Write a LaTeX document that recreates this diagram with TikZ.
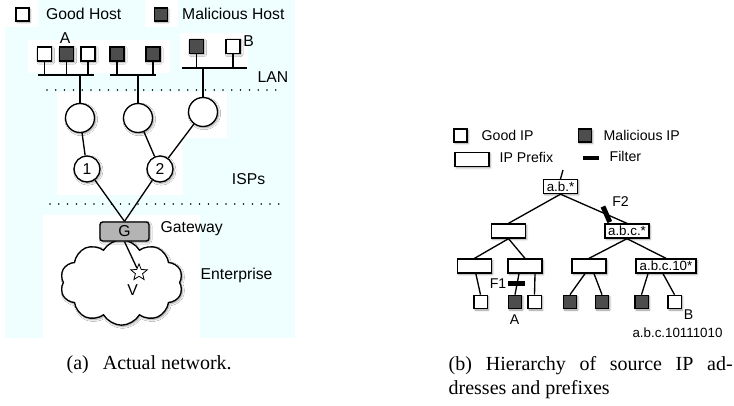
\documentclass[tikz,border=0pt]{standalone}
\usepackage{fontspec}
\setmainfont{Liberation Serif}
\newfontfamily\arialfont{Liberation Sans}
\usepackage{tikz}
\usetikzlibrary{shapes.geometric,shapes.symbols,shadows,shadows.blur}
\definecolor{bgcyan}{RGB}{239,255,255}
\definecolor{hostdark}{RGB}{77,77,77}
\definecolor{gatewaygray}{RGB}{180,180,180}

\begin{document}
\begin{tikzpicture}[x=0.75pt,y=0.75pt,yscale=-1,xscale=1,line width=1pt,
  softshadow/.style={blur shadow={shadow xshift=0.9pt,shadow yshift=-1pt,shadow blur radius=1.4pt,shadow blur steps=5,shadow opacity=40}},
  goodhost/.style={draw,fill=white,minimum size=10.5pt,inner sep=0pt,softshadow},
  badhost/.style={goodhost,fill=hostdark},
  router/.style={circle,draw,fill=white,minimum size=21.75pt,inner sep=0pt,softshadow},
  isp/.style={router,minimum size=19.5pt,font=\netfont},
  gateway/.style={draw,fill=gatewaygray,rounded corners=2pt,minimum width=36.75pt,minimum height=14.25pt,inner sep=0pt,font=\netfont,softshadow},
  prefixbox/.style={draw,fill=white,minimum width=25.5pt,minimum height=10.5pt,inner sep=1pt,font=\treefont,softshadow},
  goodip/.style={draw,fill=white,minimum size=10pt,inner sep=0pt,softshadow},
  badip/.style={goodip,fill=hostdark},
  filterbar/.style={fill=black,minimum width=12.75pt,minimum height=3.75pt,inner sep=0pt},
  dotline/.style={line width=1.3pt,line cap=round,dash pattern=on 0pt off 6.6pt},
  nettext/.style={font=\netfont,inner sep=0pt},
  iptext/.style={font=\iptextfont,inner sep=0pt},
  treetext/.style={font=\treefont,inner sep=0pt}
]
\newcommand\netfont{\arialfont\fontsize{11.8}{13}\selectfont}
\newcommand\iptextfont{\arialfont\fontsize{10.6}{12}\selectfont}
\newcommand\treefont{\arialfont\fontsize{10}{11}\selectfont}
\useasboundingbox (0,0) rectangle (734,405);

%Shape: background of the network picture
\fill[bgcyan] (5,27) rectangle (295,338);
\fill[bgcyan] (38,0) rectangle (145,27);
\fill[bgcyan] (178,0) rectangle (295,27);
\fill[white] (28,40) rectangle (170,73);
\fill[white] (180,33) rectangle (248,67);
\fill[white] (57,92) rectangle (227,138);
\fill[white] (57,138) rectangle (183,195);
\fill[white] (43,215) rectangle (200,338);

% Legend (a)
\node[goodhost,minimum size=9.75pt] (lgood) at (22.5,14.5) {};
\node[nettext,anchor=west] at (45.5,14) {Good Host};
\node[badhost,minimum size=9.75pt] (lbad) at (161,14.5) {};
\node[nettext,anchor=west] at (181.5,14) {Malicious Host};

%Hosts
\node[goodhost] (h1) at (44.5,54) {};
\node[badhost] (h2) at (66.5,54) {};
\node[goodhost] (h3) at (88,54) {};
\node[badhost] (h4) at (117,54) {};
\node[badhost] (h5) at (153,54) {};
\node[badhost] (h6) at (196.5,46.5) {};
\node[goodhost] (h7) at (233,46.5) {};
\node[nettext] at (65,38) {A};
\node[nettext] at (248.5,41) {B};

%LAN buses
\coordinate (bus1w) at (38,75);
\coordinate (bus1e) at (94,75);
\coordinate (bus2w) at (110,75);
\coordinate (bus2e) at (156,75);
\coordinate (bus3w) at (182,68);
\coordinate (bus3e) at (247,68);
\draw (bus1w) -- (bus1e);
\draw (bus2w) -- (bus2e);
\draw (bus3w) -- (bus3e);
\foreach \h in {h1,h2,h3} \draw (\h) -- (\h |- bus1w);
\foreach \h in {h4,h5} \draw (\h) -- (\h |- bus2w);
\foreach \h in {h6,h7} \draw (\h) -- (\h |- bus3w);
\node[nettext] at (273,77.5) {LAN};

\draw[dotline] (47,90) -- (282,90);

%Routers and ISPs
\node[router] (r1) at (80,118) {};
\node[router] (r2) at (138,118) {};
\node[router] (r3) at (203,112) {};
\draw (r1) -- (r1 |- bus1w);
\draw (r2) -- (r2 |- bus2w);
\draw (r3) -- (r3 |- bus3w);
\node[isp] (isp1) at (87,169) {1};
\node[isp] (isp2) at (160,169) {2};
\draw (r1) -- (isp1);
\draw (r2) -- (isp2);
\draw (r3) -- (isp2);
\node[nettext] at (248.5,179.5) {ISPs};

\draw[dotline] (50,204) -- (283,204);

%Enterprise
\node[cloud,cloud puffs=10,cloud puff arc=120,aspect=1.45,draw,fill=white,minimum width=92pt,minimum height=64pt,inner sep=0pt,softshadow] (ent) at (121.5,282.5) {};
\node[gateway] (gw) at (124.5,231.5) {G};
\node[star,star points=5,star point ratio=2.3,draw,fill=white,line width=0.6pt,minimum size=13pt,inner sep=0pt] (victim) at (139,272.5) {};
\draw (isp1) -- (gw.north);
\draw (isp2) -- (gw.north);
\draw (gw.south) -- (victim);
\node[nettext] at (132.5,290) {V};
\node[nettext,anchor=west] at (160,229) {Gateway};
\node[nettext,anchor=west] at (200,275) {Enterprise};

% Legend (b)
\node[goodip,minimum size=9.75pt] (lgip) at (460.5,135.5) {};
\node[iptext,anchor=west] at (481,135) {Good IP};
\node[badip,minimum size=9.75pt] (lbip) at (585,135.5) {};
\node[iptext,anchor=west] at (603,135) {Malicious IP};
\node[prefixbox] (lprefix) at (472,159.5) {};
\node[iptext,anchor=west] at (499,157.5) {IP Prefix};
\node[filterbar,minimum width=12pt,minimum height=3pt] (lfilter) at (591,158) {};
\node[iptext,anchor=west] at (609,156) {Filter};

%Prefix tree
\coordinate (root) at (563,170);
\node[prefixbox] (ab) at (560.5,186.5) {a.b.*};
\node[prefixbox] (l2a) at (508.5,231) {};
\node[prefixbox,minimum width=33pt] (abc) at (627,231) {a.b.c.*};
\node[prefixbox] (ll) at (474.5,266) {};
\node[prefixbox] (lr) at (525,266) {};
\node[prefixbox] (rl) at (589,266) {};
\node[prefixbox,minimum width=45pt] (rr) at (666,266) {a.b.c.10*};
\node[goodip] (ip1) at (480.5,302) {};
\node[badip] (ip2) at (515,302) {};
\node[goodip] (ip3) at (534.5,302) {};
\node[badip] (ip4) at (570,302) {};
\node[badip] (ip5) at (602,302) {};
\node[badip] (ip6) at (641.5,302) {};
\node[goodip] (ip7) at (674.5,302) {};

\draw (root) -- (ab.north);
\draw (ab.south) -- (l2a.north);
\draw (ab.south) -- (abc.north) node[filterbar,pos=0.69,sloped,rotate=90] (f2) {};
\draw (l2a.south) -- (ll.north);
\draw (l2a.south) -- (lr.north);
\draw (abc.south) -- (rl.north);
\draw (abc.south) -- (rr.north);
\draw ([xshift=1pt]ll.south) -- (ip1.north);
\draw ([xshift=-4.5pt]lr.south) -- (ip2.north);
\draw ([xshift=7.5pt]lr.south) -- (ip3.north);
\draw ([xshift=-3pt]rl.south) -- (ip4.north);
\draw ([xshift=3.75pt]rl.south) -- (ip5.north);
\draw ([xshift=-13.5pt]rr.south) -- (ip6.north);
\draw ([xshift=-2.25pt]rr.south) -- (ip7.north);
\node[filterbar] (f1) at (516.5,283.5) {};

\node[iptext] at (620.5,202) {F2};
\node[iptext] at (498,284) {F1};
\node[iptext] at (514.5,319.5) {A};
\node[iptext] at (688.5,315) {B};
\node[treetext] at (677.5,332.5) {a.b.c.10111010};

% Captions
\node[anchor=base west,inner sep=0pt,font=\fontsize{15}{18}\selectfont] (capa) at (66,369) {(a)\hspace{0.7em}Actual network.};
\node[anchor=north west,inner sep=0pt,text width=213pt,align=justify,font=\fontsize{15}{18}\selectfont] (capb) at (448,356) {(b)\hspace{0.7em}Hierarchy of source IP ad-\linebreak dresses and prefixes};

\end{tikzpicture}
\end{document}
